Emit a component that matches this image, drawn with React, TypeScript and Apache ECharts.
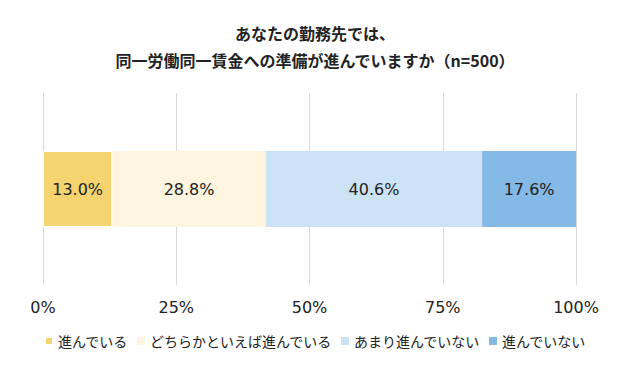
import React, { useEffect, useRef } from "react";
import * as echarts from "echarts";

const categories = ["勤務先"];
const seriesNames = ["進んでいる", "どちらかといえば進んでいる", "あまり進んでいない", "進んでいない"];
const seriesValues = [13.0, 28.8, 40.6, 17.6];
const seriesColors = ["#F5D470", "#FDF5DF", "#CCE2F5", "#84B8E5"];
const xTicks = [0, 25, 50, 75, 100];

const FONT = "'Noto Sans CJK JP', 'Noto Sans', sans-serif";
const NUMFONT = "'DejaVu Sans', Verdana, sans-serif";

export default function App() {
  const ref = useRef<HTMLDivElement>(null);
  useEffect(() => {
    if (!ref.current) return;
    const chart = echarts.init(ref.current, null, { renderer: "svg" });
    chart.setOption({
      animation: false,
      backgroundColor: "#ffffff",
      textStyle: { fontFamily: FONT },
      title: {
        text: "あなたの勤務先では、\n同一労働同一賃金への準備が進んでいますか（n=500）",
        left: "center",
        top: 14,
        textStyle: {
          fontFamily: FONT,
          fontSize: 16,
          fontWeight: "bold",
          color: "#222",
          lineHeight: 27,
        },
      },
      legend: {
        bottom: 34,
        left: "center",
        itemWidth: 8,
        itemHeight: 8,
        itemGap: 9,
        icon: "rect",
        textStyle: { fontFamily: FONT, fontSize: 14, color: "#222" },
        data: seriesNames,
      },
      grid: { left: 43, right: 54, top: 93, bottom: 102 },
      xAxis: {
        type: "value",
        min: xTicks[0],
        max: xTicks[xTicks.length - 1],
        interval: 25,
        axisLine: { show: false },
        axisTick: { show: false },
        axisLabel: {
          formatter: "{value}%",
          fontFamily: NUMFONT,
          fontSize: 16,
          color: "#222",
          margin: 14,
        },
        splitLine: { show: true, lineStyle: { color: "#d9d9d9", width: 1 } },
      },
      yAxis: {
        type: "category",
        data: categories,
        show: false,
      },
      series: seriesNames.map((name, i) => ({
        name,
        type: "bar",
        stack: "total",
        barWidth: 76,
        data: [seriesValues[i]],
        itemStyle: { color: seriesColors[i], borderColor: "#ffffff", borderWidth: i === 0 ? 1 : 0 },
        label: {
          show: true,
          position: "inside",
          formatter: (p: any) => p.value.toFixed(1) + "%",
          fontFamily: NUMFONT,
          fontSize: 16,
          color: "#222",
        },
      })),
    });
    return () => chart.dispose();
  }, []);
  return <div ref={ref} style={{ width: 630, height: 387, margin: -8 }} />;
}
